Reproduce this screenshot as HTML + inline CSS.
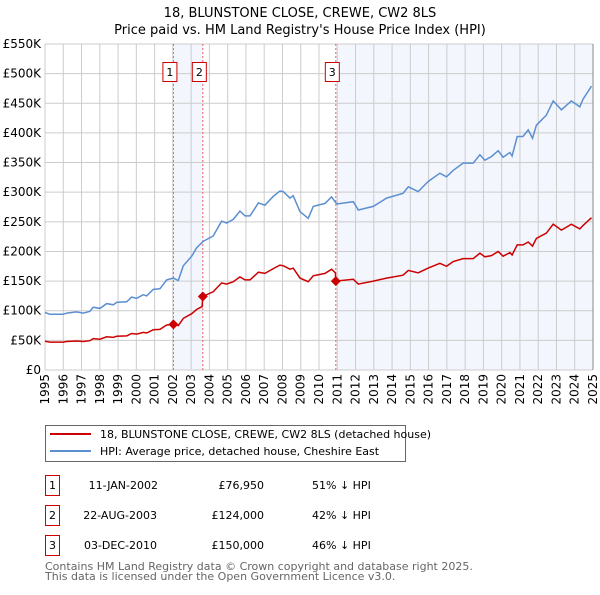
<!DOCTYPE html>
<html><head><meta charset="utf-8"><style>
body{margin:0;background:#fff;font-family:"Liberation Sans","DejaVu Sans",sans-serif}
svg text{font-family:"DejaVu Sans","Liberation Sans",sans-serif}
</style></head><body>
<svg id="chart" width="600" height="590" viewBox="0 0 600 590" xmlns="http://www.w3.org/2000/svg">
<text x="300" y="17" font-size="13" text-anchor="middle" fill="#000">18, BLUNSTONE CLOSE, CREWE, CW2 8LS</text>
<text x="300" y="34" font-size="13" text-anchor="middle" fill="#000">Price paid vs. HM Land Registry's House Price Index (HPI)</text>
<g id="plot"></g>
<g>
<rect x="45.5" y="425.5" width="360" height="36" fill="#fff" stroke="#666"/>
<line x1="50" y1="434" x2="91" y2="434" stroke="#cc0000" stroke-width="2"/>
<text x="100" y="438" font-size="11">18, BLUNSTONE CLOSE, CREWE, CW2 8LS (detached house)</text>
<line x1="50" y1="451" x2="91" y2="451" stroke="#5b8fd0" stroke-width="2"/>
<text x="100" y="455" font-size="11">HPI: Average price, detached house, Cheshire East</text>
</g>
<g font-size="11">
<rect x="45.5" y="475.5" width="14" height="20" fill="none" stroke="#cc0000"/><text x="52.5" y="489" text-anchor="middle">1</text>
<text x="158" y="489" text-anchor="end">11-JAN-2002</text><text x="264" y="489" text-anchor="end">£76,950</text><text x="312" y="489">51% ↓ HPI</text>
<rect x="45.5" y="505.5" width="14" height="20" fill="none" stroke="#cc0000"/><text x="52.5" y="519" text-anchor="middle">2</text>
<text x="157" y="519" text-anchor="end">22-AUG-2003</text><text x="264" y="519" text-anchor="end">£124,000</text><text x="312" y="519">42% ↓ HPI</text>
<rect x="45.5" y="535.5" width="14" height="20" fill="none" stroke="#cc0000"/><text x="52.5" y="549" text-anchor="middle">3</text>
<text x="157" y="549" text-anchor="end">03-DEC-2010</text><text x="264" y="549" text-anchor="end">£150,000</text><text x="312" y="549">46% ↓ HPI</text>
</g>
<text x="45" y="570" font-size="11" fill="#666">Contains HM Land Registry data © Crown copyright and database right 2025.</text>
<text x="45" y="580" font-size="11" fill="#666">This data is licensed under the Open Government Licence v3.0.</text>
</svg>
<script>
const hpiYears=[1995.0,1995.27,1996.0,1996.19,1996.73,1997.1,1997.46,1997.64,1998.01,1998.38,1998.74,1998.92,1999.47,1999.74,2000.02,2000.38,2000.57,2000.93,2001.29,2001.66,2002.02,2002.30,2002.57,2003.03,2003.30,2003.66,2004.21,2004.67,2004.94,2005.31,2005.67,2005.95,2006.22,2006.68,2007.04,2007.50,2007.86,2008.04,2008.41,2008.59,2008.96,2009.41,2009.69,2010.33,2010.69,2010.97,2011.88,2012.15,2012.97,2013.7,2014.6,2014.89,2015.43,2015.98,2016.62,2016.98,2017.35,2017.89,2018.44,2018.81,2019.08,2019.44,2019.81,2020.08,2020.45,2020.57,2020.85,2021.17,2021.45,2021.69,2021.9,2022.45,2022.82,2023.27,2023.82,2024.28,2024.46,2024.92];
const hpiValues=[97,94,94,96,98,96,99,106,104,112,110,114,115,123,121,127,125,136,137,152,155,151,176,192,206,217,226,251,248,254,268,260,260,282,278,293,302,301,290,294,267,256,276,281,292,280,284,270,276,290,298,309,301,318,332,326,337,349,349,363,354,360,370,359,367,361,394,394,405,391,413,430,454,439,454,444,457,479];
const redYears=[1995.0,1995.27,1996.0,1996.19,1996.73,1997.1,1997.46,1997.64,1998.01,1998.38,1998.74,1998.92,1999.47,1999.74,2000.02,2000.38,2000.57,2000.93,2001.29,2001.66,2002.02,2002.30,2002.57,2003.03,2003.30,2003.6,2003.64,2004.21,2004.67,2004.94,2005.31,2005.67,2005.95,2006.22,2006.68,2007.04,2007.50,2007.86,2008.04,2008.41,2008.59,2008.96,2009.41,2009.69,2010.33,2010.69,2010.9,2010.92,2011.88,2012.15,2012.97,2013.7,2014.6,2014.89,2015.43,2015.98,2016.62,2016.98,2017.35,2017.89,2018.44,2018.81,2019.08,2019.44,2019.81,2020.08,2020.45,2020.57,2020.85,2021.17,2021.45,2021.69,2021.9,2022.45,2022.82,2023.27,2023.82,2024.28,2024.46,2024.92];
const redValues=[48.5,47,47,48,49,48,49.5,53,52,56,55,57,57.5,61.5,60.5,63.5,62.5,68,68.5,76,77,75,87,95,102,107,124,132,147,145,149,157,152,152,165,163,171,177,176,170,172,155,149,159,163,170,164,150,153,145,150,155,160,168,164,172,180,175,183,188,188,197,191,193,200,192,198,194,211,211,216,209,222,231,246,236,246,238,244,257];
const saleYears=[2002.03,2003.64,2010.92];
const saleValues=[76.95,124,150];
const saleLabels=["1","2","3"];
const yTicks=[0,50,100,150,200,250,300,350,400,450,500,550];
const yTickLabels=["£0","£50K","£100K","£150K","£200K","£250K","£300K","£350K","£400K","£450K","£500K","£550K"];
const xTicks=[1995,1996,1997,1998,1999,2000,2001,2002,2003,2004,2005,2006,2007,2008,2009,2010,2011,2012,2013,2014,2015,2016,2017,2018,2019,2020,2021,2022,2023,2024,2025];

const L=45,R=593,T=44,B=370;
const xs=y=>L+(y-1995)/30*(R-L);
const ys=v=>B-v/550*(B-T);
const NS="http://www.w3.org/2000/svg";
const g=document.getElementById('plot');
function mk(tag,attrs,parent){const e=document.createElementNS(NS,tag);for(const k in attrs)e.setAttribute(k,attrs[k]);(parent||g).appendChild(e);return e;}

let s1=mk('rect',{x:xs(saleYears[0]),y:T,width:xs(saleYears[1])-xs(saleYears[0]),height:B-T,fill:'#f3f6fd'});


let s2=mk('rect',{x:xs(saleYears[2]),y:T,width:R-xs(saleYears[2]),height:B-T,fill:'#f3f6fd'});



yTicks.forEach((v,i)=>{
  let l=mk('line',{x1:L,x2:R,y1:ys(v),y2:ys(v),stroke:'#cccccc','stroke-width':1});
  
  
  let t=mk('text',{x:L-4,y:ys(v)+4,'font-size':12,'text-anchor':'end',fill:'#000'});
  t.textContent=yTickLabels[i];
  
  
});
xTicks.forEach(y=>{
  let l=mk('line',{x1:xs(y),x2:xs(y),y1:T,y2:B,stroke:'#cccccc','stroke-width':1});
  
  
  let t=mk('text',{x:0,y:0,'font-size':12,'text-anchor':'end',fill:'#000',transform:`translate(${xs(y)+4},${B+4}) rotate(-90)`});
  t.textContent=String(y);
  
  
});
let rb=mk('line',{x1:R,x2:R,y1:T,y2:B,stroke:'#888','stroke-width':1});



saleYears.forEach((y,i)=>{
  let l=mk('line',{x1:xs(y),x2:xs(y),y1:T,y2:B,stroke:'#f06060','stroke-width':1,'stroke-dasharray':'2,2'});
  
  
  let r=mk('rect',{x:xs(y)-10.5,y:62.5,width:14,height:19,fill:'#fff',stroke:'#cc0000'});
  
  
  let t=mk('text',{x:xs(y)-3.5,y:76,'font-size':11,'text-anchor':'middle',fill:'#000'});
  t.textContent=saleLabels[i];
  
  
});

let hp=mk('polyline',{points:hpiYears.map((y,i)=>xs(y).toFixed(1)+','+ys(hpiValues[i]).toFixed(1)).join(' '),fill:'none',stroke:'#5b8fd0','stroke-width':1.5});


let rp=mk('polyline',{points:redYears.map((y,i)=>xs(y).toFixed(1)+','+ys(redValues[i]).toFixed(1)).join(' '),fill:'none',stroke:'#cc0000','stroke-width':1.5});


saleYears.forEach((y,i)=>{
  const cx=xs(y),cy=ys(saleValues[i]);
  let d=mk('polygon',{points:`${cx},${cy-5} ${cx+5},${cy} ${cx},${cy+5} ${cx-5},${cy}`,fill:'#cc0000'});
  
  
});
</script>
</body></html>
